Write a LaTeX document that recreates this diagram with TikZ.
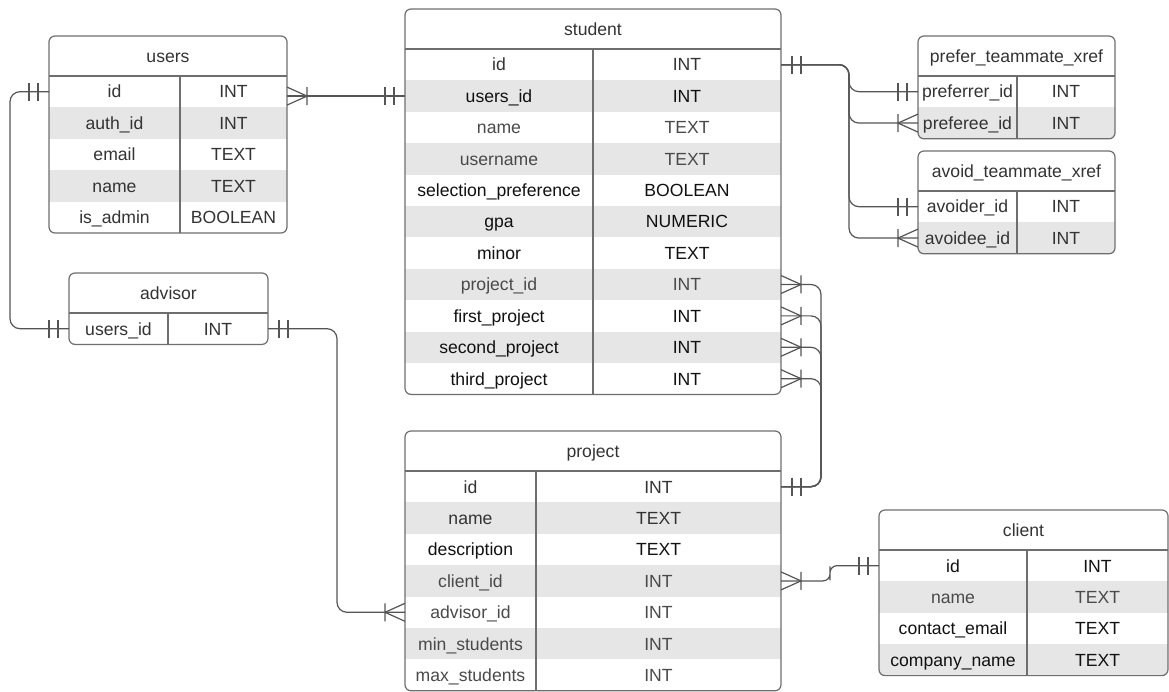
\documentclass[tikz,border=0pt]{standalone}
\usepackage{fontspec}
\setmainfont{Liberation Sans}
\usepackage{tikz}
\usetikzlibrary{positioning,calc}

\definecolor{rowgray}{HTML}{E6E6E6}
\definecolor{framec}{HTML}{6E6E6E}
\definecolor{linec}{HTML}{555555}
\definecolor{txtk}{HTML}{111111}
\definecolor{txtd}{HTML}{333333}
\definecolor{txtg}{HTML}{4A4A4A}

% #1 name, #2 top left, #3 key width, #4 type width, #5 title, #6 rows key/type/colour
\newcommand{\ertable}[6]{%
  \foreach \fname/\ftype/\fcol [count=\i] in {#6} {\xdef\nrows{\i}}
  \begin{scope}
    \clip[rounded corners=6] #2 rectangle ++(#3+#4, 40+\nrows*31.4);
    \node[thead, minimum width=#3+#4, anchor=north west] (#1) at #2 {#5};
    \foreach \fname/\ftype/\fcol [count=\i] in {#6} {
      \ifodd\i \def\rowbg{white}\else \def\rowbg{rowgray}\fi
      \node[tcell, fill=\rowbg, text=\fcol, minimum width=#3, anchor=north west]
        (#1-\i) at ($(#1.south west)+(0,\i*31.4-31.4)$) {\fname};
      \node[tcell, fill=\rowbg, text=\fcol, minimum width=#4, right=0pt of #1-\i] (#1-\i-t) {\ftype};
    }
  \end{scope}
  \draw[tframe, rounded corners=6] (#1.north west) rectangle (#1-\nrows-t.south east);
  \draw[tframe] (#1.south west) -- (#1.south east);
  \draw[tframe] (#1-1-t.north west) -- (#1-\nrows-t.south west);
}

\begin{document}
\begin{tikzpicture}[
  x=1pt, y=-1pt,
  font=\fontsize{17.6}{21}\selectfont,
  thead/.style={inner sep=0pt, outer sep=0pt, minimum height=40pt, text=txtd, text height=12.6pt, text depth=0pt},
  tcell/.style={inner sep=0pt, outer sep=0pt, minimum height=31.4pt, text height=12.6pt, text depth=0pt},
  tframe/.style={draw=framec, line width=1.2pt},
  conn/.style={draw=linec, line width=1.2pt, rounded corners=10},
  endmark/.style={draw=linec, line width=1.2pt},
  onebar/.pic={\draw[endmark] (11,-9)--(11,9) (20,-9)--(20,9);},
  crowfoot/.pic={\draw[endmark] (0,-9)--(20,0)--(0,9) (20,-9)--(20,9);}]
\useasboundingbox (0,0) rectangle (1169,692);

\ertable{users}{(49,36)}{131}{107}{users}{%
  id/INT/txtd, auth\_id/INT/txtd, email/TEXT/txtd, name/TEXT/txtd, is\_admin/BOOLEAN/txtd}
\ertable{adv}{(69,273)}{99}{100}{advisor}{users\_id/INT/txtd}
\ertable{stu}{(405,9)}{188}{188}{student}{%
  id/INT/txtd, users\_id/INT/txtk, name/TEXT/txtg, username/TEXT/txtg,
  selection\_preference/BOOLEAN/txtk, gpa/NUMERIC/txtk, minor/TEXT/txtk,
  project\_id/INT/txtg, first\_project/INT/txtk, second\_project/INT/txtk, third\_project/INT/txtk}
\ertable{prj}{(405,431)}{131}{245}{project}{%
  id/INT/txtd, name/TEXT/txtd, description/TEXT/txtk, client\_id/INT/txtg,
  advisor\_id/INT/txtg, min\_students/INT/txtg, max\_students/INT/txtg}
\ertable{pref}{(918,36)}{99}{98}{prefer\_teammate\_xref}{preferrer\_id/INT/txtd, preferee\_id/INT/txtd}
\ertable{avoid}{(918,151)}{99}{98}{avoid\_teammate\_xref}{avoider\_id/INT/txtd, avoidee\_id/INT/txtd}
\ertable{cli}{(879,510)}{148}{141}{client}{%
  id/INT/txtk, name/TEXT/txtg, contact\_email/TEXT/txtk, company\_name/TEXT/txtk}

\draw[conn] (users-1.west) -- ++(-39,0) |- (adv-1.west);
\pic[rotate=180] at (users-1.west) {onebar};
\pic[rotate=180] at (adv-1.west) {onebar};

\draw[conn] (users-1-t.east |- stu-2.west) -- (stu-2.west);
\pic at (users-1-t.east |- stu-2.west) {crowfoot};
\pic[rotate=180] at (stu-2.west) {onebar};

\draw[conn] (adv-1-t.east) -- ++(69,0) |- (prj-5.west);
\pic at (adv-1-t.east) {onebar};
\pic[rotate=180] at (prj-5.west) {crowfoot};

\coordinate (tbus) at ($(stu-1-t.east)+(68,0)$);
\foreach \n in {pref-1, pref-2, avoid-1, avoid-2}
  \draw[conn] (stu-1-t.east) -- (tbus) |- (\n.west);
\pic at (stu-1-t.east) {onebar};
\pic[rotate=180] at (pref-1.west) {onebar};
\pic[rotate=180] at (pref-2.west) {crowfoot};
\pic[rotate=180] at (avoid-1.west) {onebar};
\pic[rotate=180] at (avoid-2.west) {crowfoot};

\coordinate (pbus) at ($(prj-1-t.east)+(40,0)$);
\foreach \r in {8,...,11} {
  \draw[conn] (stu-\r-t.east) -| (pbus) -- (prj-1-t.east);
  \pic at (stu-\r-t.east) {crowfoot};
}
\pic at (prj-1-t.east) {onebar};

\draw[conn, rounded corners=7] (prj-4-t.east) -| ($(prj-4-t.east)!0.5!(cli-1.west)$) |- (cli-1.west);
\pic at (prj-4-t.east) {crowfoot};
\pic[rotate=180] at (cli-1.west) {onebar};
\end{tikzpicture}
\end{document}
